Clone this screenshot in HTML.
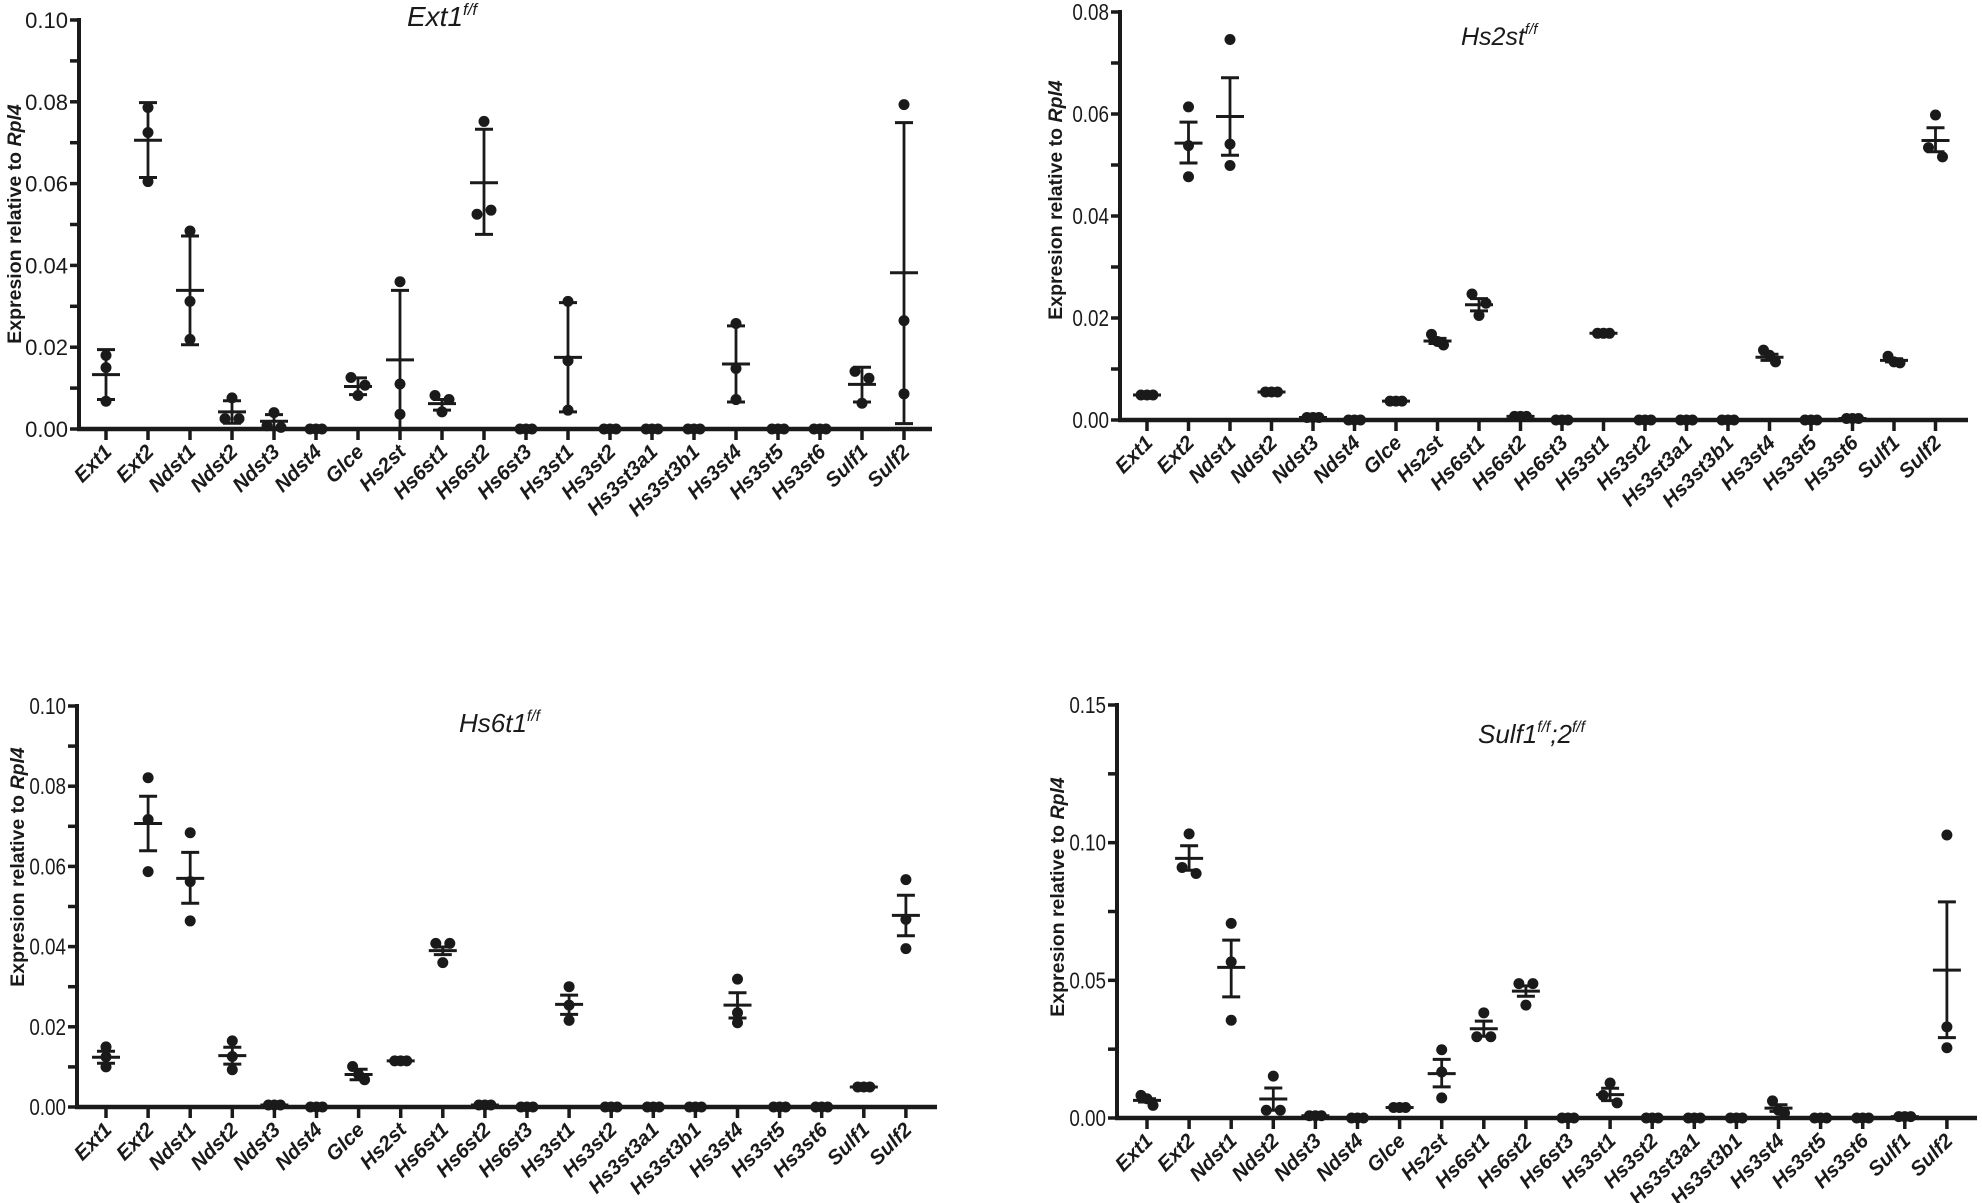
<!DOCTYPE html>
<html><head><meta charset="utf-8">
<style>
html,body{margin:0;padding:0;background:#fff;}
svg{display:block;}
text{font-family:"Liberation Sans",Arial,sans-serif;fill:#1a1a1a;}
</style></head>
<body>
<svg id="s" xmlns="http://www.w3.org/2000/svg" width="1982" height="1203" viewBox="0 0 1982 1203"></svg>
<script>
var cats=["Ext1","Ext2","Ndst1","Ndst2","Ndst3","Ndst4","Glce","Hs2st","Hs6st1","Hs6st2","Hs6st3","Hs3st1","Hs3st2","Hs3st3a1","Hs3st3b1","Hs3st4","Hs3st5","Hs3st6","Sulf1","Sulf2"];
function Z(){return [[0,0,0],0,0,0];}
function C(v){return [[v,v,v],v,v,v];}
var panels=[
{ax:79,y0:429,ytop:20,max:0.10,tick:0.01,lab:0.02,dec:2,x0:106,dx:42,xend:932,
 title:"Ext1",tx:407,ty:26,tfs:28,ylx:14,yly:224,narrow:false,
 d:[[[0.018,0.015,0.0068],0.0133,0.0194,0.0072],[[0.0786,0.0725,0.0605],0.0706,0.0798,0.0615],[[0.0484,0.0312,0.0219],0.0339,0.0472,0.0206],[[0.0076,0.0025,0.0025],0.0042,0.0069,0.0014],[[0.004,0.0008,0.0004],0.0019,0.0035,0.0003],Z(),[[0.0126,0.0107,0.0082],0.0104,0.0125,0.0084],[[0.036,0.011,0.0036],0.0169,0.0339,0],[[0.0082,0.0072,0.0042],0.0062,0.0072,0.0046],[[0.0752,0.0525,0.0535],0.0602,0.0733,0.0476],Z(),[[0.0312,0.0167,0.0046],0.0175,0.0309,0.0042],Z(),Z(),Z(),[[0.0258,0.0148,0.0072],0.0159,0.0252,0.0066],Z(),Z(),[[0.0141,0.0124,0.0063],0.0109,0.0151,0.0066],[[0.0793,0.0265,0.0086],0.0382,0.0749,0.0013]]},
{ax:1120,y0:420,ytop:12,max:0.08,tick:0.01,lab:0.02,dec:2,x0:1147,dx:41.5,xend:1968,
 title:"Hs2st",tx:1461,ty:45,tfs:25,ylx:1055,yly:200,narrow:true,
 d:[C(0.0049),[[0.0614,0.0538,0.0477],0.0543,0.0584,0.0504],[[0.0746,0.0541,0.0499],0.0595,0.0671,0.0519],C(0.0055),C(0.0005),Z(),C(0.0037),[[0.0168,0.0154,0.0147],0.0155,0.016,0.015],[[0.0247,0.0229,0.0205],0.0226,0.0238,0.0214],C(0.0007),Z(),C(0.017),Z(),Z(),Z(),[[0.0137,0.0127,0.0114],0.0123,0.0129,0.0117],Z(),C(0.0003),[[0.0125,0.0114,0.0112],0.0117,0.012,0.0114],[[0.0598,0.0534,0.0516],0.0548,0.0573,0.0526]]},
{ax:77,y0:1107,ytop:706,max:0.10,tick:0.01,lab:0.02,dec:2,x0:106,dx:42.1,xend:937,
 title:"Hs6t1",tx:459,ty:732,tfs:26,ylx:17,yly:867,narrow:true,
 d:[[[0.015,0.0125,0.01],0.0124,0.0139,0.0109],[[0.0821,0.0717,0.0587],0.0707,0.0775,0.0639],[[0.0684,0.0562,0.0464],0.057,0.0635,0.0508],[[0.0165,0.0126,0.0093],0.0128,0.0149,0.0107],C(0.0005),Z(),[[0.0101,0.0081,0.0068],0.0081,0.0094,0.0068],C(0.0115),[[0.0408,0.0408,0.036],0.039,0.0399,0.038],C(0.0005),Z(),[[0.03,0.0254,0.0216],0.0256,0.0279,0.0231],Z(),Z(),Z(),[[0.0319,0.0235,0.021],0.0254,0.0285,0.0222],Z(),Z(),C(0.005),[[0.0567,0.0468,0.0395],0.0478,0.0528,0.0427]]},
{ax:1117,y0:1118,ytop:705,max:0.15,tick:0.025,lab:0.05,dec:2,x0:1147,dx:42.1,xend:1977,
 title:"Sulf1",tx:1478,ty:743,tfs:26,ylx:1057,yly:897,narrow:true,
 d:[[[0.0082,0.007,0.0046],0.0064,0.007,0.0058],[[0.1032,0.091,0.0888],0.0943,0.0989,0.09],[[0.0707,0.0567,0.0355],0.0547,0.0646,0.044],[[0.0152,0.0028,0.0028],0.0069,0.0109,0.0028],C(0.0008),Z(),C(0.0038),[[0.0248,0.0167,0.0073],0.0161,0.0213,0.0113],[[0.0382,0.0295,0.0295],0.0324,0.0352,0.0297],[[0.0488,0.0488,0.041],0.0461,0.048,0.0442],Z(),[[0.0127,0.0082,0.0055],0.0085,0.0108,0.0063],Z(),Z(),Z(),[[0.0062,0.0028,0.0018],0.0036,0.0048,0.0024],Z(),Z(),C(0.0005),[[0.1028,0.0331,0.0255],0.0537,0.0785,0.0292]]}
];
var s=document.getElementById("s"),h="",col="#1a1a1a";
function L(x1,y1,x2,y2,w){h+='<line x1="'+x1+'" y1="'+y1+'" x2="'+x2+'" y2="'+y2+'" stroke="'+col+'" stroke-width="'+w+'"/>';}
panels.forEach(function(p,pi){
  var k=(p.y0-p.ytop)/p.max; function Y(v){return p.y0-v*k;}
  L(p.ax,p.ytop-2,p.ax,p.y0+2,4);
  var n=Math.round(p.max/p.tick);
  for(var i=0;i<=n;i++){var v=i*p.tick,y=Y(v);L(p.ax-9,y,p.ax,y,3.5);
    var r=Math.abs(v/p.lab-Math.round(v/p.lab))<1e-6;
    if(r){var t=v.toFixed(p.dec);
      if(p.narrow) h+='<text transform="translate('+(p.ax-11)+','+(y+8)+') scale(0.82,1)" text-anchor="end" font-size="23">'+t+'</text>';
      else h+='<text x="'+(p.ax-11)+'" y="'+(y+8)+'" text-anchor="end" font-size="22">'+t+'</text>';}}
  L(p.ax-2,p.y0,p.xend,p.y0,4.5);
  h+='<text transform="translate('+(p.ylx+7)+','+p.yly+') rotate(-90)" text-anchor="middle" font-size="19.5" font-weight="bold">Expresion relative to <tspan font-style="italic">Rpl4</tspan></text>';
  var sup=pi==3?'<tspan font-size="'+(p.tfs*0.6)+'" dy="-11">f/f</tspan><tspan dy="11">;2</tspan><tspan font-size="'+(p.tfs*0.6)+'" dy="-11">f/f</tspan>':'<tspan font-size="'+(p.tfs*0.6)+'" dy="-11">f/f</tspan>';
  h+='<text x="'+p.tx+'" y="'+p.ty+'" font-size="'+p.tfs+'" font-style="italic">'+p.title+sup+'</text>';
  cats.forEach(function(c,ci){
    var x=p.x0+ci*p.dx;
    L(x,p.y0,x,p.y0+11,3.5);
    h+='<text transform="translate('+(x+7)+','+(p.y0+24)+') rotate(-45)" text-anchor="end" font-size="20.5" font-weight="bold" font-style="italic">'+c+'</text>';
    var d=p.d[ci],pts=d[0];
    var sorted=pts.slice().sort(function(a,b){return a-b;});
    var offs=[-6,0,6];
    var spread=(sorted[2]-sorted[0])*k;
    pts.forEach(function(v,j){
      var ox=0;
      if(spread<14) ox=offs[j];
      else { for(var q=0;q<3;q++){ if(q!=j && Math.abs(pts[q]-v)*k<10){ ox=(j<q?-7:7);} } }
      h+='<circle cx="'+(x+ox)+'" cy="'+Y(v)+'" r="5.5" fill="'+col+'"/>';
    });
    if(d[2]>d[3]){
      L(x,Y(d[2]),x,Y(d[3]),2.8);
      L(x-9,Y(d[2]),x+9,Y(d[2]),3);
      L(x-9,Y(d[3]),x+9,Y(d[3]),3);
    }
    if(d[1]>0.0001) L(x-14,Y(d[1]),x+14,Y(d[1]),3);
  });
});
s.innerHTML=h;
</script>
</body></html>
